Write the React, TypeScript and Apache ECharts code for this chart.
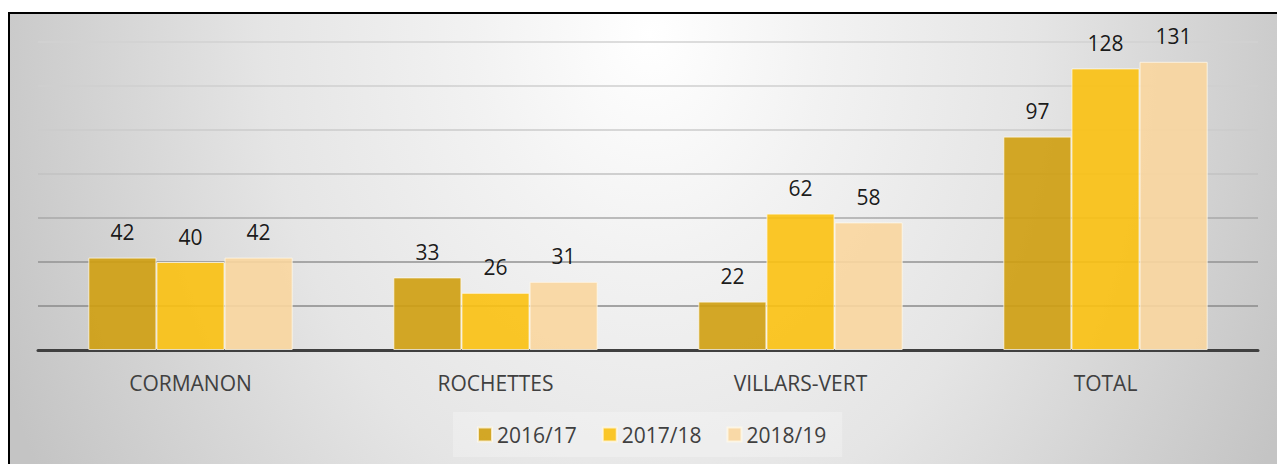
import React, { useEffect, useRef } from "react";
import * as echarts from "echarts";

const categories = ["CORMANON", "ROCHETTES", "VILLARS-VERT", "TOTAL"];
const seriesNames = ["2016/17", "2017/18", "2018/19"];
const values2016 = [42, 33, 22, 97];
const values2017 = [40, 26, 62, 128];
const values2018 = [42, 31, 58, 131];
const seriesColors = ["#cf9f10", "#fbc111", "#f9d69f"];
const gridLineColors = ["#404040", "#8a8a8a", "#929292", "#a8a8a8", "#c2c2c2", "#cbcbcb", "#cfcfcf", "#d2d2d2"];

const FONT = "'Open Sans', 'DejaVu Sans', sans-serif";

export default function App() {
  const ref = useRef<HTMLDivElement>(null);
  useEffect(() => {
    if (!ref.current) return;
    const chart = echarts.init(ref.current, undefined, { renderer: "svg" });
    const data = [values2016, values2017, values2018];
    chart.setOption({
      animation: false,
      backgroundColor: "transparent",
      textStyle: { fontFamily: FONT },
      grid: { left: 38, right: 19, top: 42, bottom: 114, containLabel: false },
      legend: {
        data: seriesNames,
        left: 453,
        top: 412,
        padding: [12, 16, 12, 24],
        itemGap: 25,
        itemWidth: 14,
        itemHeight: 14,
        icon: "rect",
        backgroundColor: "rgba(255,255,255,0.25)",
        textStyle: { color: "#404040", fontSize: 21, fontFamily: FONT },
      },
      xAxis: {
        type: "category",
        data: categories,
        axisLine: { show: true, lineStyle: { color: "#404040", width: 3 } },
        axisTick: { show: false },
        axisLabel: { color: "#404040", fontSize: 21, fontFamily: FONT, margin: 22 },
      },
      yAxis: {
        type: "value",
        min: 0,
        max: 140,
        interval: 20,
        axisLine: { show: false },
        axisTick: { show: false },
        axisLabel: { show: false },
        splitLine: { show: true, lineStyle: { color: gridLineColors, width: 1.5 } },
      },
      series: seriesNames.map((name, i) => ({
        name,
        type: "bar",
        data: data[i],
        barGap: "0%",
        barCategoryGap: "33%",
        itemStyle: {
          color: seriesColors[i],
          opacity: 0.9,
          borderColor: "rgba(255,250,235,0.85)",
          borderWidth: 1,
        },
        label: {
          show: true,
          position: "top",
          distance: 15,
          color: "#000000",
          fontSize: 21,
          fontFamily: FONT,
        },
      })),
    });
    return () => chart.dispose();
  }, []);

  return (
    <div
      style={{
        position: "fixed",
        left: 0,
        top: 0,
        width: 1277,
        height: 464,
        background: "#ffffff",
        overflow: "hidden",
      }}
    >
      <div
        style={{
          position: "absolute",
          left: 8,
          top: 12,
          width: 1300,
          height: 500,
          border: "2px solid #000",
          boxSizing: "border-box",
          background:
            "radial-gradient(ellipse 700px 900px at 640px 20px, #ffffff 0%, #f2f2f2 25%, #e5e5e5 55%, #c4c4c4 100%)",
        }}
      />
      <div ref={ref} style={{ position: "absolute", left: 0, top: 0, width: 1277, height: 464 }} />
    </div>
  );
}
